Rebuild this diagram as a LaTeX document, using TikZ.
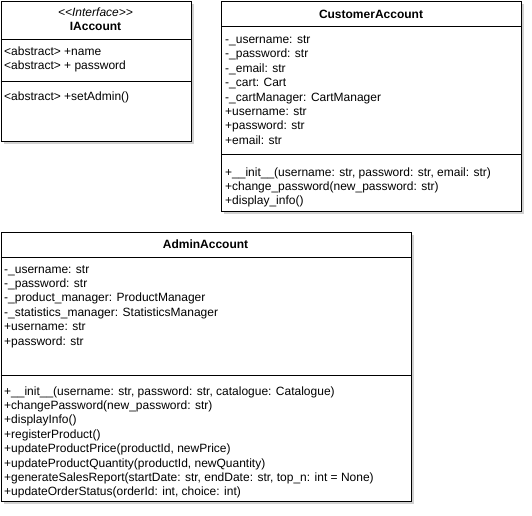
\documentclass[tikz,border=0pt]{standalone}
\usepackage{fontspec}
\setmainfont{Liberation Sans}
\usetikzlibrary{shadows}
\newcommand\complines[4]{%
  \foreach \t [count=\i from 0] in {#4}
    \node[txt] (#1-\i) at (#2, {#3+14.4*\i}) {\t};}
\begin{document}
\begin{tikzpicture}[x=1pt,y=-1pt,
  box/.style={draw=black, line width=1pt, fill=white, inner sep=0pt, anchor=north west,
    drop shadow={shadow xshift=2.5pt, shadow yshift=-2.5pt, opacity=0.18, fill=black}},
  sep/.style={draw=black, line width=1pt},
  txt/.style={inner sep=0pt, anchor=base west, font=\fontsize{12}{14.4}\selectfont},
  ttl/.style={inner sep=0pt, anchor=base, font=\fontsize{12}{14.4}\selectfont}]
\useasboundingbox[fill=white] (0,0) rectangle (532,515);

% IAccount
\node[box, minimum width=190pt, minimum height=140pt] (ia) at (0.5,0.5) {};
\draw[sep] (0.5,39.5) -- (190.5,39.5);
\draw[sep] (0.5,81.5) -- (190.5,81.5);
\node[ttl] (ia-st) at (95.5,16) {\itshape {<}{<}Interface{>}{>}};
\node[ttl] (ia-t) at (95.5,30.5) {\bfseries IAccount};
\complines{iaf}{4}{55}{<abstract> +name, <abstract> + password}
\complines{iam}{4}{100}{<abstract> +setAdmin()}

% CustomerAccount
\node[box, minimum width=300pt, minimum height=210pt] (ca) at (221,0.5) {};
\draw[sep] (221,26.5) -- (521,26.5);
\draw[sep] (221,154.5) -- (521,154.5);
\node[ttl] (ca-t) at (371,18) {\bfseries CustomerAccount};
\complines{caf}{225}{43.5}{-\_username: str, -\_password: str, -\_email: str, -\_cart: Cart, -\_cartManager: CartManager, +username: str, +password: str, +email: str}
\complines{cam}{225}{176}{{+\_\_init\_\_(username: str, password: str, email: str)}, +change\_password(new\_password: str), +display\_info()}

% AdminAccount
\node[box, minimum width=410pt, minimum height=269pt] (aa) at (0.5,231.5) {};
\draw[sep] (0.5,257.5) -- (410.5,257.5);
\draw[sep] (0.5,375) -- (410.5,375);
\node[ttl] (aa-t) at (205.5,248) {\bfseries AdminAccount};
\complines{aaf}{4}{273}{-\_username: str, -\_password: str, -\_product\_manager: ProductManager, -\_statistics\_manager: StatisticsManager, +username: str, +password: str}
\complines{aam}{4}{395}{{+\_\_init\_\_(username: str, password: str, catalogue: Catalogue)}, +changePassword(new\_password: str), +displayInfo(), +registerProduct(), {+updateProductPrice(productId, newPrice)}, {+updateProductQuantity(productId, newQuantity)}, {+generateSalesReport(startDate: str, endDate: str, top\_n: int = None)}, {+updateOrderStatus(orderId: int, choice: int)}}
\end{tikzpicture}
\end{document}
